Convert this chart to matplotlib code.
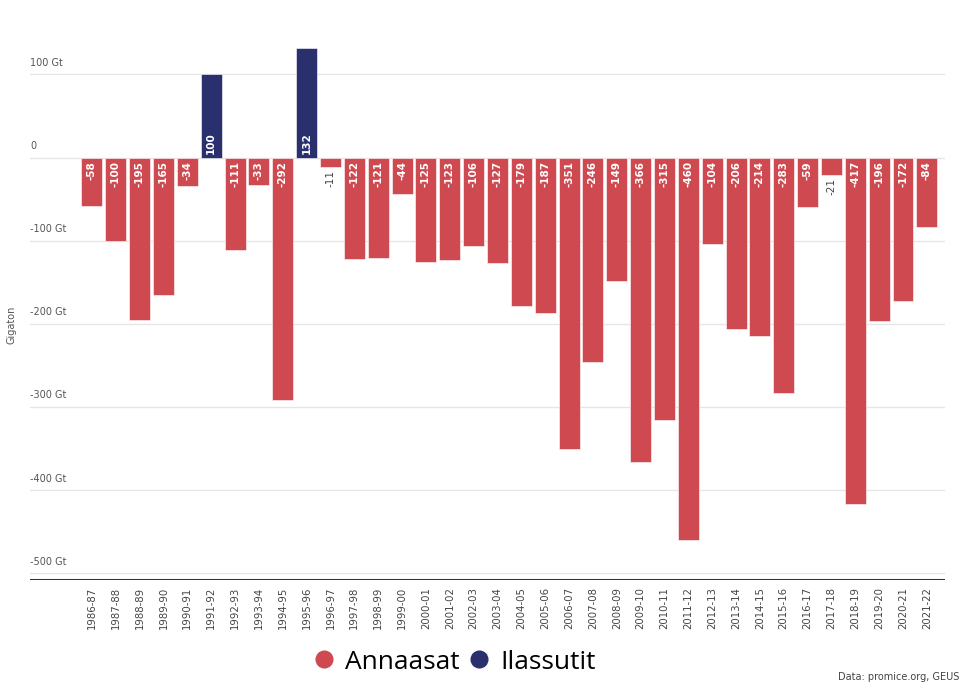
import matplotlib.pyplot as plt
from matplotlib.lines import Line2D

# Greenland ice sheet mass balance per season (Gt)
seasons = ["1986-87", "1987-88", "1988-89", "1989-90", "1990-91", "1991-92",
           "1992-93", "1993-94", "1994-95", "1995-96", "1996-97", "1997-98",
           "1998-99", "1999-00", "2000-01", "2001-02", "2002-03", "2003-04",
           "2004-05", "2005-06", "2006-07", "2007-08", "2008-09", "2009-10",
           "2010-11", "2011-12", "2012-13", "2013-14", "2014-15", "2015-16",
           "2016-17", "2017-18", "2018-19", "2019-20", "2020-21", "2021-22"]
balance = [-58, -100, -195, -165, -34, 100, -111, -33, -292, 132, -11, -122,
           -121, -44, -125, -123, -106, -127, -179, -187, -351, -246, -149, -366,
           -315, -460, -104, -206, -214, -283, -59, -21, -417, -196, -172, -84]
yticks = [100, 0, -100, -200, -300, -400, -500]
ytick_labels = ["100 Gt", "0", "-100 Gt", "-200 Gt", "-300 Gt", "-400 Gt", "-500 Gt"]

red = "#cf4a50"
navy = "#2a306e"

fig = plt.figure(figsize=(9.66, 6.84), dpi=100)
ax = fig.add_axes([0.031, 0.152, 0.947, 0.800])

x = list(range(len(seasons)))
colors = [navy if v > 0 else red for v in balance]
ax.bar(x, balance, width=0.88, color=colors, edgecolor="white", linewidth=0.4, zorder=3)

# value labels
for i, v in enumerate(balance):
    if v > 0:
        ax.text(i, 4, str(v), rotation=90, ha="center", va="bottom",
                color="white", fontsize=7.5, fontweight="bold", zorder=4)
    elif v > -25:
        ax.text(i, v - 4, str(v), rotation=90, ha="center", va="top",
                color="#444444", fontsize=7.5, zorder=4)
    else:
        ax.text(i, -4, str(v), rotation=90, ha="center", va="top",
                color="white", fontsize=7.5, fontweight="bold", zorder=4)

ax.set_xlim(-2.6, 35.75)
ax.set_ylim(-508, 150)

# gridlines with labels sitting above them
for t, lab in zip(yticks, ytick_labels):
    ax.axhline(t, color="#e6e6e6", linewidth=1, zorder=1)
    ax.text(-2.6, t + 8, lab, ha="left", va="bottom", fontsize=7, color="#555555")
ax.axhline(-508, color="#333333", linewidth=2.2, zorder=5)

ax.set_yticks([])
ax.set_xticks(x)
ax.set_xticklabels(seasons, rotation=90, fontsize=7.3, color="#444444")
ax.tick_params(axis="x", length=0, pad=5)
for s in ax.spines.values():
    s.set_visible(False)

fig.text(0.012, 0.525, "Gigaton", rotation=90, fontsize=7, color="#555555",
         ha="center", va="center")

handles = [Line2D([], [], marker="o", linestyle="", markersize=12,
                  markerfacecolor=red, markeredgecolor=red, label="Annaasat"),
           Line2D([], [], marker="o", linestyle="", markersize=12,
                  markerfacecolor=navy, markeredgecolor=navy, label="Ilassutit")]
fig.legend(handles=handles, loc="center", bbox_to_anchor=(0.47, 0.032), ncol=2,
           frameon=False, prop={"family": "Open Sans", "size": 19},
           handlelength=0.9, handletextpad=0.35, columnspacing=0.3)

fig.text(0.993, 0.003, "Data: promice.org, GEUS", ha="right", va="bottom",
         fontsize=7, color="#444444")

fig.savefig("out.png", dpi=100)
